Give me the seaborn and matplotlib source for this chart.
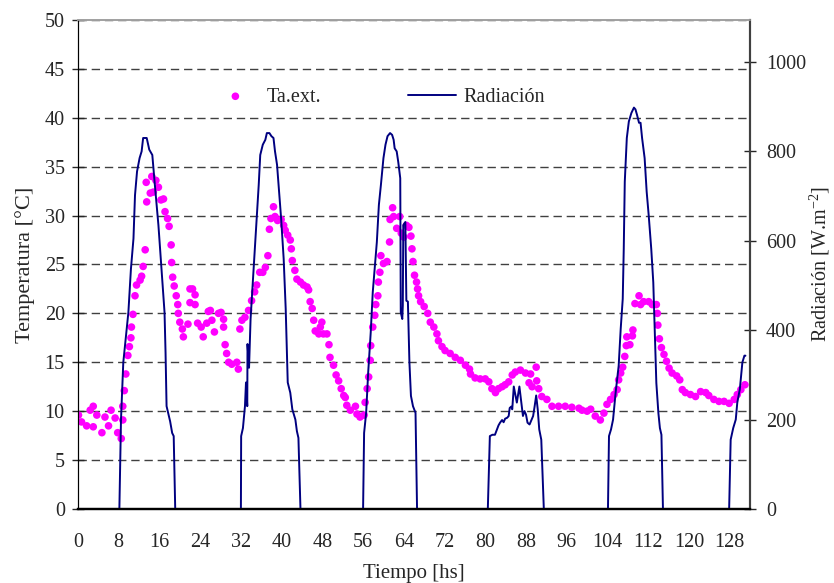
import matplotlib
matplotlib.use('Agg')
import matplotlib.pyplot as plt
import pandas as pd
import seaborn as sns

# Air temperature (scatter), hours / degC
temp_hours = [
    0.1, 0.7, 1.7, 2.4, 3.0, 3.0, 3.7, 4.7, 5.3, 6.0, 6.5, 7.3, 7.8, 8.5, 8.8, 8.8,
    9.1, 9.4, 9.8, 10.1, 10.4, 10.5, 10.8, 11.2, 11.5, 12.2, 12.5, 12.8, 13.2, 13.4,
    13.5, 14.2, 14.5, 14.8, 15.3, 15.8, 16.3, 16.8, 17.1, 17.6, 17.9, 18.3, 18.4,
    18.6, 18.9, 19.3, 19.6, 19.7, 20.0, 20.5, 20.7, 21.6, 22.0, 22.0, 22.5, 23.0,
    23.0, 23.5, 24.2, 24.6, 25.3, 25.6, 26.0, 26.3, 26.8, 27.6, 28.1, 28.6, 28.6,
    28.9, 29.2, 29.6, 30.2, 31.2, 31.5, 31.8, 32.2, 32.8, 33.5, 34.1, 34.7, 35.1,
    35.7, 36.3, 36.8, 37.3, 37.6, 37.9, 38.4, 38.7, 39.2, 39.9, 40.4, 40.7, 41.2,
    41.7, 41.9, 42.1, 42.6, 43.0, 43.7, 44.3, 45.0, 45.3, 45.6, 46.0, 46.3, 46.6,
    47.3, 47.6, 47.9, 48.2, 48.9, 49.3, 49.5, 50.2, 50.7, 51.2, 51.7, 52.2, 52.5,
    52.8, 53.5, 54.5, 54.8, 55.4, 56.2, 56.4, 56.8, 57.1, 57.4, 57.5, 57.9, 58.3,
    58.5, 58.9, 59.0, 59.3, 59.5, 60.0, 60.7, 61.2, 61.3, 61.8, 62.0, 62.6, 63.2,
    63.5, 64.0, 64.5, 65.0, 65.4, 65.6, 65.8, 66.1, 66.5, 66.7, 66.9, 67.3, 68.0,
    68.7, 69.2, 69.9, 70.5, 70.8, 71.5, 72.1, 73.1, 74.1, 75.1, 76.1, 76.9, 77.1,
    78.0, 79.0, 80.0, 80.7, 81.3, 82.0, 82.6, 83.3, 83.9, 84.6, 85.3, 85.9, 86.9,
    87.9, 88.6, 88.9, 89.2, 90.0, 90.1, 90.5, 91.1, 92.1, 93.1, 94.4, 95.7, 97.0,
    98.4, 99.0, 100.0, 100.7, 101.6, 102.6, 103.3, 103.9, 104.6, 105.3, 105.9,
    106.2, 106.6, 107.0, 107.4, 107.7, 107.8, 108.4, 108.9, 109.0, 109.4, 110.2,
    110.5, 111.1, 112.1, 112.8, 113.6, 113.8, 113.9, 114.2, 114.6, 115.1, 115.6,
    116.1, 116.7, 117.6, 118.2, 118.7, 119.3, 120.3, 121.3, 122.3, 123.3, 123.9,
    124.9, 125.9, 126.9, 127.9, 128.9, 129.5, 130.2, 131.0,
]
temp_values = [
    9.6, 8.9, 8.5, 10.1, 10.5, 8.4, 9.6, 7.8, 9.4, 8.5, 10.1, 9.3, 7.8, 7.2, 9.1, 10.5,
    12.1, 13.8, 15.7, 16.6, 17.5, 18.6, 19.9, 21.8, 22.9, 23.4, 23.8, 24.8, 26.5, 33.4,
    31.4, 32.3, 34.0, 32.4, 33.6, 32.9, 31.6, 31.7, 30.4, 29.7, 28.9, 27.0, 25.2,
    23.7, 22.8, 21.8, 20.9, 20.0, 19.1, 18.4, 17.6, 18.9, 22.5, 21.1, 22.5, 21.9,
    20.9, 19.0, 18.6, 17.6, 19.0, 20.2, 20.3, 19.3, 18.1, 20.0, 20.1, 19.4, 18.6,
    16.8, 15.9, 15.0, 14.8, 15.0, 14.3, 18.4, 19.3, 19.6, 20.3, 21.3, 22.2, 22.9,
    24.2, 24.2, 24.7, 25.9, 28.6, 29.7, 30.9, 29.9, 29.5, 29.6, 29.0, 28.5, 28.0,
    27.5, 26.6, 25.4, 24.4, 23.5, 23.2, 22.9, 22.7, 22.4, 21.2, 20.5, 19.3, 18.2,
    17.9, 18.6, 19.1, 17.9, 17.9, 16.8, 15.5, 14.7, 13.7, 13.1, 12.3, 11.6, 11.4,
    10.6, 10.1, 10.5, 9.7, 9.4, 9.6, 10.9, 12.3, 13.5, 15.2, 16.7, 18.6, 19.8,
    20.9, 21.8, 23.2, 24.2, 25.9, 25.1, 25.3, 27.3, 29.6, 30.8, 29.9, 28.7, 29.9,
    28.2, 27.8, 29.0, 28.8, 27.9, 26.6, 25.3, 23.9, 23.2, 22.5, 21.8, 21.2, 20.7,
    20.0, 19.1, 18.6, 17.9, 17.2, 16.6, 16.2, 15.9, 15.5, 15.2, 14.7, 14.3, 13.8,
    13.4, 13.3, 13.3, 13.0, 12.3, 11.9, 12.3, 12.5, 12.7, 13.0, 13.7, 14.0, 14.2,
    13.9, 12.9, 13.8, 12.5, 14.5, 13.1, 12.3, 11.5, 11.2, 10.5, 10.5, 10.5, 10.4,
    10.3, 10.1, 10.0, 10.2, 9.5, 9.1, 9.8, 10.7, 11.2, 11.7, 12.2,
    13.2, 13.9, 14.5, 15.6, 16.7, 17.6, 16.8, 17.7, 18.3, 21.0, 21.8,
    20.9, 21.2, 21.2, 20.9, 20.9, 20.0, 18.8, 17.4, 16.5, 15.8, 15.1,
    14.4, 13.9, 13.6, 13.2, 12.2, 11.9, 11.7, 11.5, 12.0, 11.9, 11.6,
    11.2, 11.0, 11.0, 10.8, 11.2, 11.7, 12.2, 12.7,
]

# Solar radiation (line), hours / W m-2
rad_hours = [
    0.0, 8.13, 8.45, 8.9, 9.9, 10.4, 10.9, 11.2, 11.6, 12.1, 12.5, 12.8, 13.5, 14.0,
    14.6, 15.1, 15.8, 16.4, 17.0, 17.2, 17.4, 18.1, 18.5, 18.8, 19.1,
    32.0, 32.05, 32.4, 32.8, 33.0, 33.25, 33.3, 33.6, 33.9, 34.3, 34.7, 35.1, 35.5,
    35.8, 36.3, 36.8, 37.1, 37.6, 38.0, 38.4, 38.7, 39.1, 39.4, 39.9, 40.4, 40.8,
    41.2, 41.7, 42.1, 42.7, 43.0, 43.3, 43.7,
    56.0, 56.2, 56.6, 57.0, 57.5, 57.9, 58.4, 58.7, 59.1, 59.5, 60.0, 60.4, 60.8,
    61.3, 61.7, 62.0, 62.2, 62.6, 62.9, 63.3, 63.4, 63.7, 63.8, 63.9, 64.3, 64.5,
    64.8, 65.1, 65.4, 65.8, 66.3, 66.6,
    80.5, 80.9, 81.4, 81.9, 82.3, 82.6, 82.9, 83.3, 83.6, 83.9, 84.3, 84.6, 84.8,
    85.1, 85.3, 85.6, 85.9, 86.2, 86.7, 87.0, 87.4, 87.7, 88.0, 88.3, 88.7, 89.1,
    89.4, 89.7, 90.0, 90.3, 90.6, 91.0, 91.5,
    104.1, 104.3, 104.7, 105.1, 105.6, 106.2, 106.6, 107.0, 107.2, 107.4, 107.8,
    108.2, 108.7, 109.2, 109.5, 109.8, 110.2, 110.5, 110.8, 111.3, 111.7, 112.1,
    112.6, 113.0, 113.3, 113.6, 114.0, 114.3, 114.6, 114.9,
    127.9, 128.2, 128.7, 129.2, 129.5, 130.0, 130.5, 130.9, 131.1,
]
rad_values = [
    0, 0, 200, 328, 440, 537, 605, 702, 755, 785, 800, 830, 830, 804,
    792, 725, 635, 537, 440, 350, 230, 196, 170, 163, 0,
    0, 163, 181, 230, 283, 230, 369, 316, 425, 500, 575, 650, 725,
    792, 815, 826, 841, 841, 834, 830, 800, 770, 725, 650, 560, 448,
    283, 260, 223, 200, 174, 159, 0,
    0, 170, 215, 305, 395, 485, 556, 597, 680, 725, 785, 815, 834,
    841, 837, 826, 807, 800, 777, 740, 440, 425, 455, 635, 642, 466,
    464, 328, 253, 230, 215, 0,
    0, 163, 166, 166, 178, 187, 193, 199, 194, 202, 204, 208, 226,
    229, 223, 274, 256, 238, 274, 245, 208, 219, 211, 193, 189, 200,
    208, 230, 254, 223, 178, 155, 0,
    0, 163, 178, 200, 260, 320, 403, 470, 582, 732, 830,
    867, 886, 898, 894, 882, 864, 864, 830, 785, 710, 657,
    582, 507, 395, 282, 215, 181, 166, 0,
    0, 155, 181, 200, 238, 268, 328, 343, 343,
]

x_ticks = list(range(0, 129, 8))
temp_ticks = list(range(0, 51, 5))
rad_ticks = list(range(0, 1001, 200))

df_temp = pd.DataFrame({'hora': temp_hours, 'temp': temp_values})
df_rad = pd.DataFrame({'hora': rad_hours, 'rad': rad_values})

sns.set_style('white')
plt.rcParams['font.family'] = ['Liberation Serif', 'DejaVu Serif']
plt.rcParams['mathtext.fontset'] = 'custom'
plt.rcParams['mathtext.rm'] = 'Liberation Serif'

fig, ax = plt.subplots(figsize=(8.34, 5.83), dpi=100)
fig.subplots_adjust(left=0.0935, right=0.8993, bottom=0.127, top=0.9657)
ax2 = ax.twinx()

sns.scatterplot(data=df_temp, x='hora', y='temp', ax=ax, color='#FF00FF',
                s=30, edgecolor='none', linewidth=0, label='Ta.ext.')
sns.lineplot(data=df_rad, x='hora', y='rad', ax=ax2, color='#000080',
             linewidth=1.4, sort=False, estimator=None, label='Radiación')

for a in (ax, ax2):
    if a.get_legend() is not None:
        a.get_legend().remove()

ax.set_xlim(0, 132)
ax.set_ylim(0, 50)
ax2.set_ylim(0, 1094)
ax.set_xticks(x_ticks)
ax.set_yticks(temp_ticks)
ax2.set_yticks(rad_ticks)

ax.yaxis.grid(True, color='#404040', linewidth=1.0, linestyle=(0, (6, 3.5)))
ax.set_axisbelow(True)

ax.set_xlabel('Tiempo [hs]', fontsize=15, labelpad=9)
ax.set_ylabel('Temperatura [°C]', fontsize=16, labelpad=7)
ax2.set_ylabel('Radiación [W.m$^{-2}$]', fontsize=14.5, labelpad=1)

ax.tick_params(axis='x', direction='out', length=6, width=1, labelsize=14.5, pad=11)
ax.tick_params(axis='y', direction='inout', length=9, width=1, labelsize=14.5, pad=5)
ax2.tick_params(axis='y', direction='inout', length=9, width=1, labelsize=14.5, pad=7)

for a in (ax, ax2):
    a.spines['left'].set_color('black')
    a.spines['bottom'].set_color('black')
    a.spines['bottom'].set_linewidth(1.6)
    a.spines['right'].set_color('#404040')
    a.spines['right'].set_linewidth(1.5)
    a.spines['top'].set_color('#a0a0a0')
    a.spines['top'].set_linewidth(1.2)

h1, l1 = ax.get_legend_handles_labels()
h2, l2 = ax2.get_legend_handles_labels()
ax2.legend(h1 + h2, l1 + l2, loc='center left', bbox_to_anchor=(0.199, 0.8425),
           ncol=2, frameon=False, fontsize=14.5, borderpad=0, borderaxespad=0,
           handlelength=2.35, handletextpad=0.4, columnspacing=4.3)

fig.savefig('out.png', dpi=100)
